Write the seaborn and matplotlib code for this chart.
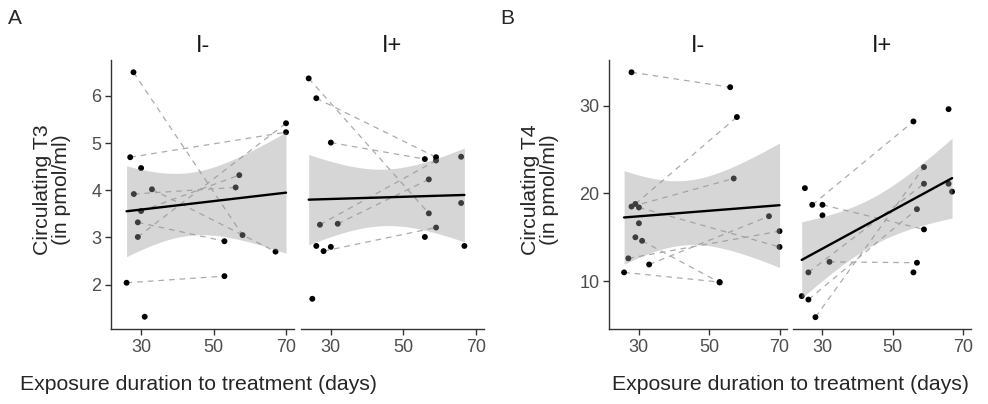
import numpy as np
import pandas as pd
import matplotlib
matplotlib.use("Agg")
import matplotlib.pyplot as plt
import seaborn as sns

# ---------------- data ----------------
# Panel A: circulating T3, group I-
t3_neg_id   = [1, 1, 2, 2, 3, 3, 4, 4, 5, 5, 6, 6, 7, 7, 8, 8, 9, 10]
t3_neg_days = [27.9, 58.0, 27.0, 70.0, 28.0, 56.1, 33.0, 67.1, 30.0, 57.1,
               29.1, 53.0, 29.1, 70.0, 26.0, 53.0, 30.0, 31.0]
t3_neg_vals = [6.50, 3.05, 4.70, 5.23, 3.92, 4.06, 4.02, 2.70, 3.56, 4.32,
               3.32, 2.92, 3.01, 5.42, 2.04, 2.18, 4.47, 1.32]
# Panel A: circulating T3, group I+
t3_pos_id   = [1, 1, 2, 2, 3, 3, 4, 4, 5, 5, 6, 6, 7, 8, 9, 10, 11, 12, 13]
t3_pos_days = [23.9, 57.0, 26.0, 59.0, 30.0, 55.9, 27.0, 59.0, 31.9, 57.0,
               28.0, 59.0, 26.0, 30.0, 24.9, 55.9, 65.9, 65.9, 66.8]
t3_pos_vals = [6.37, 3.51, 5.95, 4.70, 5.01, 4.66, 3.27, 4.63, 3.29, 4.23,
               2.71, 3.21, 2.82, 2.80, 1.70, 3.01, 4.71, 3.73, 2.82]
# Panel B: circulating T4, group I-
t4_neg_id   = [1, 1, 2, 2, 3, 3, 4, 4, 5, 5, 6, 6, 7, 7, 8, 8, 9, 10]
t4_neg_days = [28.0, 56.0, 29.1, 57.9, 28.0, 57.0, 30.1, 70.0, 31.0, 53.0,
               25.9, 53.0, 27.1, 70.0, 33.0, 67.0, 30.1, 29.1]
t4_neg_vals = [33.8, 32.1, 18.8, 28.7, 18.5, 21.7, 18.4, 13.9, 14.6, 9.85,
               11.0, 9.9, 12.6, 15.7, 11.9, 17.4, 16.6, 15.0]
# Panel B: circulating T4, group I+
t4_pos_id   = [1, 1, 2, 2, 3, 3, 4, 4, 5, 5, 6, 6, 7, 8, 9, 10, 11, 12, 13]
t4_pos_days = [27.1, 55.9, 30.0, 58.9, 32.0, 56.9, 26.0, 58.9, 28.0, 58.9,
               26.0, 56.9, 25.0, 30.0, 24.1, 65.9, 65.9, 66.9, 55.9]
t4_pos_vals = [18.7, 28.2, 18.7, 15.9, 12.2, 12.1, 11.0, 21.1, 5.9, 23.0,
               7.9, 18.2, 20.6, 17.5, 8.3, 29.6, 21.1, 20.2, 11.0]

facet_titles = ["I-", "I+"]
panel_letters = ["A", "B"]
ylabels = ["Circulating T3\n(in pmol/ml)", "Circulating T4\n(in pmol/ml)"]
xlabel = "Exposure duration to treatment (days)"
x_ticks = [30, 50, 70]
y_ticks_a = [2, 3, 4, 5, 6]
y_ticks_b = [10, 20, 30]

# Student t 0.975 quantiles (for the 95% band of a linear fit)
T975 = {14: 2.144787, 15: 2.131450, 16: 2.119905, 17: 2.109816,
        18: 2.100922, 19: 2.093024, 20: 2.085963}

# ---------------- style ----------------
sns.set_theme(style="ticks")
plt.rcParams["font.family"] = ["Liberation Sans", "DejaVu Sans"]

W, H = 988, 404
fig = plt.figure(figsize=(W / 100, H / 100), dpi=100)

def fx(px):
    return px / W

def fy(py):
    return 1 - py / H

bottom_px, top_px = 329, 60
ab = (H - bottom_px) / H
ah = (bottom_px - top_px) / H

axes_px = [
    (111, 294), (300.7, 484),
    (609.3, 787.3), (793.3, 970.7),
]

facets = [
    (t3_neg_id, t3_neg_days, t3_neg_vals),
    (t3_pos_id, t3_pos_days, t3_pos_vals),
    (t4_neg_id, t4_neg_days, t4_neg_vals),
    (t4_pos_id, t4_pos_days, t4_pos_vals),
]

ylims = [(1.06, 6.76), (4.55, 35.2)]
xlim = (21.7, 72.2)
axcol = "#333333"
tickcol = "#4D4D4D"

for k, ((x0, x1), (ids, days, vals)) in enumerate(zip(axes_px, facets)):
    ax = fig.add_axes([fx(x0), ab, fx(x1 - x0), ah])
    df = pd.DataFrame({"id": ids, "days": days, "value": vals})
    panel = k // 2
    # paired dashed lines (same individual measured twice)
    for _, g in df.groupby("id"):
        if len(g) > 1:
            ax.plot(g["days"], g["value"], ls=(0, (4.5, 4)), lw=0.9,
                    color="#ABABAB", zorder=1)
    sns.scatterplot(data=df, x="days", y="value", ax=ax, color="black",
                    s=18, edgecolor="none", zorder=2, legend=False)

    # 95% confidence band of the linear fit (analytic, as in lm)
    x = df["days"].to_numpy(float)
    y = df["value"].to_numpy(float)
    n = len(x)
    b1, b0 = np.polyfit(x, y, 1)
    resid = y - (b0 + b1 * x)
    s = np.sqrt(np.sum(resid ** 2) / (n - 2))
    xg = np.linspace(x.min(), x.max(), 120)
    se = s * np.sqrt(1 / n + (xg - x.mean()) ** 2 / np.sum((x - x.mean()) ** 2))
    yg = b0 + b1 * xg
    t = T975[n - 2]
    ax.fill_between(xg, yg - t * se, yg + t * se, color="#999999",
                    alpha=0.4, lw=0, zorder=3)
    # regression line
    sns.regplot(data=df, x="days", y="value", ax=ax, scatter=False, ci=None,
                color="black", truncate=True, line_kws=dict(lw=1.7, zorder=4))

    ax.set_xlim(*xlim)
    ax.set_ylim(*ylims[panel])
    ax.set_xticks(x_ticks)
    ax.set_xlabel("")
    ax.set_ylabel("")
    for sp in ["top", "right"]:
        ax.spines[sp].set_visible(False)
    for sp in ["bottom", "left"]:
        ax.spines[sp].set_color(axcol)
        ax.spines[sp].set_linewidth(1.0)
    ax.tick_params(axis="both", colors=axcol, labelcolor=tickcol,
                   labelsize=13, length=4, width=1.0, pad=3)
    ax.set_yticks(y_ticks_a if panel == 0 else y_ticks_b)
    if k % 2 == 1:
        ax.spines["left"].set_visible(False)
        ax.tick_params(axis="y", left=False, labelleft=False)
    fig.text(fx((x0 + x1) / 2), fy(46), facet_titles[k % 2], fontsize=17,
             color="#1A1A1A", ha="center", va="center")

# panel labels, axis titles
fig.text(fx(8), fy(19), panel_letters[0], fontsize=15, va="center", ha="left")
fig.text(fx(500), fy(19), panel_letters[1], fontsize=15, va="center", ha="left")
fig.text(fx(198), fy(384), xlabel, fontsize=15.3, ha="center", va="center")
fig.text(fx(790), fy(384), xlabel, fontsize=15.3, ha="center", va="center")
fig.text(fx(52), fy(190), ylabels[0], fontsize=15.3, ha="center",
         va="center", rotation=90, linespacing=1.05)
fig.text(fx(540), fy(190), ylabels[1], fontsize=15.3, ha="center",
         va="center", rotation=90, linespacing=1.05)

fig.savefig("out.png", dpi=100, facecolor="white")
